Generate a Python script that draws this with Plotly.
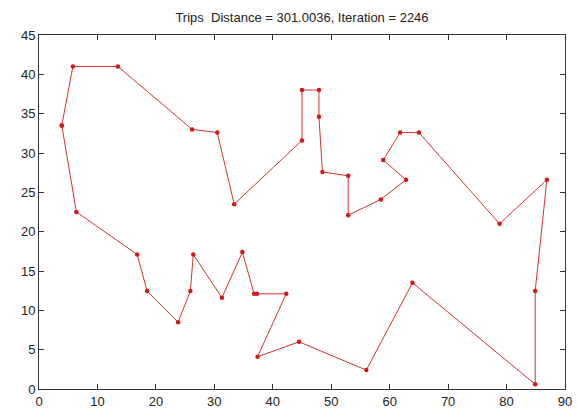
import plotly.graph_objects as go

route_x = [3.9, 5.8, 13.5, 26.2, 30.5, 33.4, 45.0, 45.0, 47.9, 47.9, 48.5, 52.9, 52.9,
           58.5, 62.8, 58.9, 61.8, 65.0, 78.8, 86.9, 84.9, 84.9, 63.9, 56.0, 44.5,
           37.4, 42.3, 37.3, 36.8, 34.8, 31.3, 26.4, 25.9, 23.8, 18.5, 16.8, 6.4, 3.9]
route_y = [33.5, 41.0, 41.0, 33.0, 32.6, 23.5, 31.6, 38.0, 38.0, 34.6, 27.6, 27.1, 22.1,
           24.1, 26.6, 29.1, 32.6, 32.6, 21.0, 26.6, 12.45, 0.6, 13.5, 2.4, 6.0,
           4.1, 12.1, 12.1, 12.1, 17.4, 11.6, 17.1, 12.45, 8.5, 12.45, 17.1, 22.5, 33.5]

x_ticks = [0, 10, 20, 30, 40, 50, 60, 70, 80, 90]
y_ticks = [0, 5, 10, 15, 20, 25, 30, 35, 40, 45]
title_text = "Trips\u00a0 Distance = 301.0036, Iteration = 2246"

fig = go.Figure()
fig.add_trace(go.Scatter(
    x=route_x, y=route_y, mode="lines+markers",
    line=dict(color="#c81e1e", width=0.9),
    marker=dict(color="#d01818", size=4.5, symbol="circle"),
    hoverinfo="skip", showlegend=False,
))

axis_common = dict(
    showgrid=False, zeroline=False, showline=True, linecolor="#333333", linewidth=1,
    mirror="allticks", ticks="inside", ticklen=5, tickcolor="#333333", automargin=False,
    tickfont=dict(family="Liberation Sans, Arial, sans-serif", size=13, color="#222222"),
)
fig.update_xaxes(range=[0, 90], tickvals=x_ticks, **axis_common)
fig.update_yaxes(range=[0, 45], tickvals=y_ticks, **axis_common)

fig.update_layout(
    width=578, height=408,
    margin=dict(l=39, r=13, t=35, b=19, autoexpand=False),
    paper_bgcolor="white", plot_bgcolor="white",
    title=dict(text=title_text, x=(39 + 565) / 2 / 578, xanchor="center",
               y=1 - 17 / 408, yanchor="middle", automargin=False,
               font=dict(family="Liberation Sans, Arial, sans-serif", size=13, color="#222222")),
)

fig.write_html("out.html", config={"displayModeBar": False, "staticPlot": True},
               post_script="document.body.style.margin='0';document.body.style.overflow='hidden';")
